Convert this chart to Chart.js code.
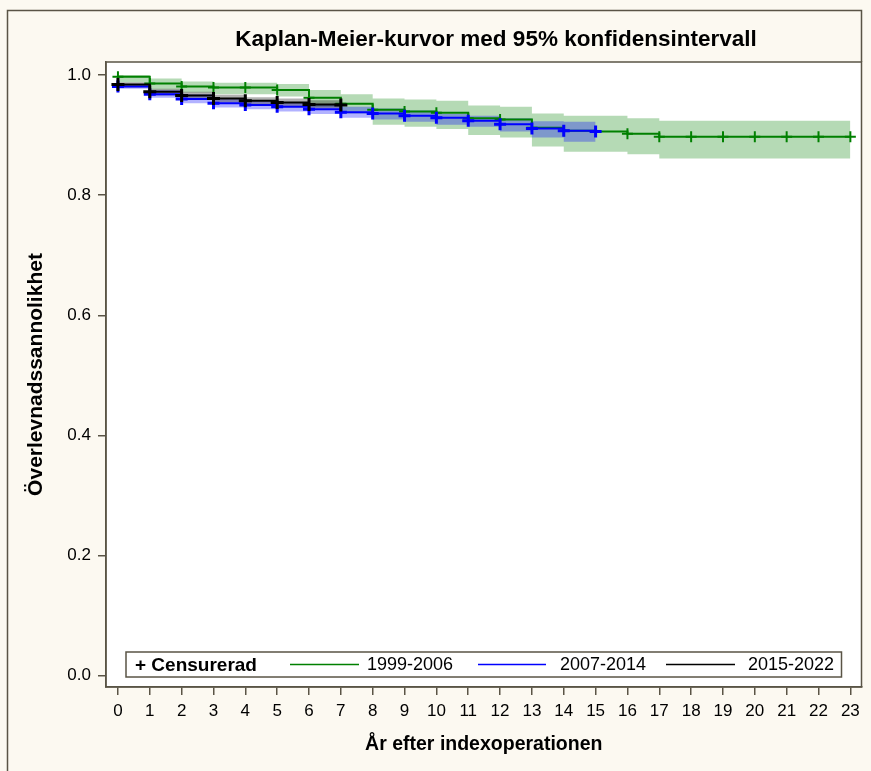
<!DOCTYPE html>
<html>
<head>
<meta charset="utf-8">
<script src="https://cdn.jsdelivr.net/npm/chart.js@4.4.1/dist/chart.umd.min.js"></script>
<style>
  body { margin: 0; background: #fcf9f1; }
  canvas { display: block; }
</style>
</head>
<body>
<canvas id="km" width="871" height="771"></canvas>
<script>
// x axis: years after index operation
const years = [0, 1, 2, 3, 4, 5, 6, 7, 8, 9, 10, 11, 12, 13, 14, 15, 16, 17, 18, 19, 20, 21, 22, 23];
const yTicks = [0, 0.2, 0.4, 0.6, 0.8, 1.0];

// 1999-2006 (survival + 95% CI), one value per year
const green   = [0.997, 0.986, 0.981, 0.979, 0.979, 0.975, 0.962, 0.952, 0.942, 0.939, 0.937, 0.928, 0.926, 0.912, 0.907, 0.906, 0.902, 0.897, 0.897, 0.897, 0.897, 0.897, 0.897, 0.897];
const greenHi = [1.000, 0.994, 0.989, 0.987, 0.987, 0.985, 0.975, 0.968, 0.961, 0.959, 0.957, 0.949, 0.947, 0.936, 0.932, 0.932, 0.928, 0.924, 0.924, 0.924, 0.924, 0.924, 0.924, 0.924];
const greenLo = [0.988, 0.976, 0.971, 0.968, 0.968, 0.964, 0.947, 0.936, 0.917, 0.914, 0.910, 0.900, 0.896, 0.881, 0.872, 0.872, 0.868, 0.861, 0.861, 0.861, 0.861, 0.861, 0.861, 0.861];

// 2007-2014
const blue   = [0.981, 0.968, 0.960, 0.953, 0.950, 0.947, 0.943, 0.938, 0.936, 0.932, 0.929, 0.924, 0.918, 0.911, 0.907, 0.906];
const blueHi = [0.985, 0.975, 0.968, 0.961, 0.958, 0.955, 0.951, 0.947, 0.944, 0.941, 0.935, 0.932, 0.928, 0.923, 0.922, 0.922];
const blueLo = [0.977, 0.962, 0.953, 0.946, 0.943, 0.939, 0.935, 0.929, 0.926, 0.922, 0.917, 0.914, 0.906, 0.896, 0.889, 0.889];

// 2015-2022
const black   = [0.984, 0.972, 0.966, 0.961, 0.957, 0.954, 0.951, 0.950];
const blackHi = [0.988, 0.977, 0.972, 0.967, 0.963, 0.961, 0.958, 0.957];
const blackLo = [0.979, 0.966, 0.960, 0.954, 0.950, 0.947, 0.944, 0.943];

const seriesLabels = ['1999-2006', '2007-2014', '2015-2022'];
const censorLabel = '+ Censurerad';
const titleText = 'Kaplan-Meier-kurvor med 95% konfidensintervall';

const frameColor = '#5a5446';
const font = '"Liberation Sans", Arial, sans-serif';

function pts(vals) {
  return vals.map((v, i) => ({x: years[i], y: v}));
}

function band(vals, color, fill, order) {
  return {
    data: pts(vals),
    stepped: true,
    borderColor: 'rgba(0,0,0,0)',
    borderWidth: 0,
    pointRadius: 0,
    backgroundColor: color,
    fill: fill,
    order: order
  };
}

function curve(vals, color, r, w, order) {
  return {
    data: pts(vals),
    stepped: true,
    borderColor: color,
    borderWidth: 2,
    fill: false,
    pointStyle: 'cross',
    pointRadius: r,
    pointBorderWidth: w,
    pointBorderColor: color,
    order: order
  };
}

// background, frame, title and legend
const decor = {
  id: 'decor',
  beforeDraw(chart) {
    const {ctx, chartArea: a} = chart;
    ctx.save();
    ctx.fillStyle = '#fcf9f1';
    ctx.fillRect(0, 0, chart.width, chart.height);
    ctx.fillStyle = '#ffffff';
    ctx.fillRect(a.left, a.top, a.right - a.left, a.bottom - a.top);
    ctx.strokeStyle = frameColor;
    ctx.lineWidth = 1.5;
    ctx.beginPath();
    ctx.moveTo(7.5, chart.height);
    ctx.lineTo(7.5, 10.5);
    ctx.lineTo(a.right, 10.5);
    ctx.lineTo(a.right, a.top);
    ctx.stroke();
    ctx.restore();
  },
  afterDraw(chart) {
    const {ctx, chartArea: a} = chart;
    ctx.save();
    ctx.strokeStyle = frameColor;
    ctx.lineWidth = 1.5;
    ctx.strokeRect(a.left, a.top, a.right - a.left, a.bottom - a.top);

    // title
    ctx.fillStyle = '#000';
    ctx.font = 'bold 22.5px ' + font;
    ctx.textAlign = 'center';
    ctx.textBaseline = 'middle';
    ctx.fillText(titleText, 496, 40);

    // legend box
    const bx = a.left + 20, bw = a.right - a.left - 40;
    const by = a.bottom - 35, bh = 25;
    ctx.fillStyle = '#fff';
    ctx.fillRect(bx, by, bw, bh);
    ctx.lineWidth = 1.5;
    ctx.strokeRect(bx, by, bw, bh);
    const cy = by + bh / 2;
    ctx.textAlign = 'left';
    ctx.fillStyle = '#000';
    ctx.font = 'bold 19px ' + font;
    ctx.fillText(censorLabel, bx + 9, cy + 1);
    const colors = ['#008000', '#0000ff', '#000000'];
    const lineX = [290, 478, 666];
    const lineLen = [69, 68, 69];
    const textX = [367, 560, 748];
    ctx.font = '18px ' + font;
    ctx.lineWidth = 1.5;
    seriesLabels.forEach((lab, i) => {
      ctx.strokeStyle = colors[i];
      ctx.beginPath();
      ctx.moveTo(lineX[i], cy);
      ctx.lineTo(lineX[i] + lineLen[i], cy);
      ctx.stroke();
      ctx.fillStyle = '#000';
      ctx.fillText(lab, textX[i], cy + 1);
    });
    ctx.restore();
  }
};

new Chart(document.getElementById('km'), {
  type: 'line',
  data: {
    datasets: [
      band(greenHi, 'rgba(0,128,0,0.29)', false, 20),
      band(greenLo, 'rgba(0,128,0,0.29)', '-1', 19),
      band(blueHi, 'rgba(0,0,255,0.3)', false, 18),
      band(blueLo, 'rgba(0,0,255,0.3)', '-1', 17),
      band(blackHi, 'rgba(0,0,0,0.3)', false, 16),
      band(blackLo, 'rgba(0,0,0,0.3)', '-1', 15),
      curve(green, '#008000', 5.5, 2, 3),
      curve(blue, '#0000ff', 6, 3, 2),
      curve(black, '#000000', 6.5, 3, 1)
    ]
  },
  options: {
    responsive: false,
    animation: false,
    events: [],
    layout: {padding: {top: 62, right: 7, left: 0, bottom: 0}},
    plugins: {
      legend: {display: false},
      tooltip: {enabled: false},
      title: {display: false}
    },
    scales: {
      x: {
        type: 'linear',
        min: -0.375,
        max: 23.35,
        afterBuildTicks: (axis) => { axis.ticks = years.map(v => ({value: v})); },
        afterFit: (axis) => { axis.height = 84; },
        grid: {drawOnChartArea: false, tickLength: 8, color: frameColor, lineWidth: 1.5},
        border: {display: true, color: frameColor, width: 1.5},
        ticks: {color: '#000', padding: 6, maxRotation: 0, autoSkip: false, font: {family: font, size: 17}},
        title: {display: true, text: 'År efter indexoperationen', color: '#000', padding: {top: 0, bottom: 15}, font: {family: font, size: 19.5, weight: 'bold'}}
      },
      y: {
        min: -0.0188,
        max: 1.0216,
        afterBuildTicks: (axis) => { axis.ticks = yTicks.map(v => ({value: v})); },
        afterFit: (axis) => { axis.width = 106; },
        grid: {drawOnChartArea: false, tickLength: 8, color: frameColor, lineWidth: 1.5},
        border: {display: true, color: frameColor, width: 1.5},
        ticks: {color: '#000', padding: 7, callback: (v) => v.toFixed(1), font: {family: font, size: 17}},
        title: {display: true, text: 'Överlevnadssannolikhet', color: '#000', padding: {top: 24, bottom: 0}, font: {family: font, size: 21, weight: 'bold'}}
      }
    }
  },
  plugins: [decor]
});
</script>
</body>
</html>
